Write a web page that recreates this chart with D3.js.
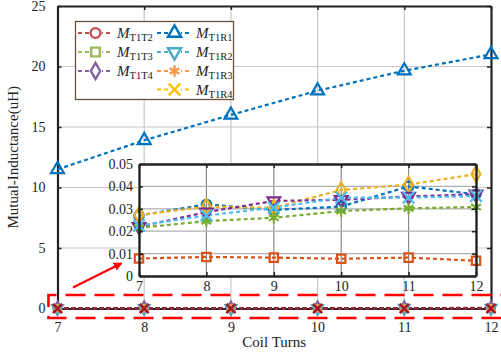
<!DOCTYPE html>
<html>
<head>
<meta charset="utf-8">
<script src="https://cdn.jsdelivr.net/npm/d3@7"></script>
<style>
  html, body { margin: 0; padding: 0; background: #fff; }
  svg { display: block; font-family: "Liberation Serif", "DejaVu Serif", serif; }
</style>
</head>
<body>
<div id="chart"></div>
<script>
// coil turns on the x axis
const turns = [7, 8, 9, 10, 11, 12];
const mainYTicks = [0, 5, 10, 15, 20, 25];
const insetYTicks = [0, 0.01, 0.02, 0.03, 0.04, 0.05];

// mutual inductance (uH)
const mT1R1 = [11.5, 13.9, 16.0, 18.0, 19.65, 21.0];
const mT1T2 = [0.027, 0.032, 0.0295, 0.031, 0.040, 0.0365];
const mT1T3 = [0.0078, 0.0085, 0.0082, 0.0077, 0.0082, 0.0068];
const mT1T4 = [0.0272, 0.031, 0.0305, 0.0384, 0.0408, 0.0455];
const mT1R2 = [0.022, 0.0285, 0.0335, 0.034, 0.0355, 0.0365];
const mT1R3 = [0.0215, 0.0245, 0.026, 0.029, 0.0302, 0.0308];
const mT1R4 = [0.0225, 0.027, 0.0305, 0.035, 0.035, 0.0357];

const width = 501, height = 356;

const svg = d3.select("#chart").append("svg")
  .attr("width", width)
  .attr("height", height);

// legend colours and the colours used inside the zoomed inset
const series = [
  {name: "T1T2", values: mT1T2, symbol: "circle", color: "#c0504d", inset: "#0072bd", col: 0, row: 0},
  {name: "T1T3", values: mT1T3, symbol: "square", color: "#9bbb59", inset: "#d95319", col: 0, row: 1},
  {name: "T1T4", values: mT1T4, symbol: "diamond", color: "#8064a2", inset: "#edb120", col: 0, row: 2},
  {name: "T1R1", values: mT1R1, symbol: "triangle", color: "#0072bd", inset: null, col: 1, row: 0},
  {name: "T1R2", values: mT1R2, symbol: "triangleDown", color: "#4bacc6", inset: "#7e2f8e", col: 1, row: 1},
  {name: "T1R3", values: mT1R3, symbol: "asterisk", color: "#f79646", inset: "#77ac30", col: 1, row: 2},
  {name: "T1R4", values: mT1R4, symbol: "x", color: "#ffc000", inset: "#4dbeee", col: 1, row: 3}
];

function markerPath(kind, size) {
  const map = {
    circle: d3.symbolCircle,
    square: d3.symbolSquare,
    diamond: d3.symbolDiamond,
    triangle: d3.symbolTriangle,
    triangleDown: d3.symbolTriangle,
    asterisk: d3.symbolAsterisk,
    x: d3.symbolTimes
  };
  return d3.symbol().type(map[kind]).size(size)();
}

function drawMarker(g, kind, x, y, size, color, sw) {
  const rot = kind === "triangleDown" ? 180 : 0;
  g.append("path")
    .attr("d", markerPath(kind, size))
    .attr("transform", `translate(${x},${y}) rotate(${rot})`)
    .attr("fill", "none")
    .attr("stroke", color)
    .attr("stroke-width", sw);
}

// ---------- main axes ----------
const x = d3.scaleLinear().domain([7, 12]).range([57.5, 491]);
const y = d3.scaleLinear().domain([0, 25]).range([308.5, 6]);

const grid = svg.append("g");
grid.selectAll(".vx").data(turns.slice(1, -1)).enter().append("line")
  .attr("x1", d => x(d)).attr("x2", d => x(d))
  .attr("y1", y(25)).attr("y2", y(0))
  .attr("stroke", "#c8c8c8").attr("stroke-width", 1.2);
grid.selectAll(".hy").data(mainYTicks.slice(1, -1)).enter().append("line")
  .attr("x1", x(7)).attr("x2", x(12))
  .attr("y1", d => y(d)).attr("y2", d => y(d))
  .attr("stroke", "#c8c8c8").attr("stroke-width", 1.2);

// left / bottom axes with ticks pointing in
svg.append("g")
  .attr("transform", `translate(${x(7)},0)`)
  .call(d3.axisLeft(y).tickValues(mainYTicks).tickSizeInner(-4).tickSizeOuter(0).tickPadding(12))
  .call(g => g.select(".domain").attr("stroke", "#222").attr("stroke-width", 2.2))
  .call(g => g.selectAll("text").attr("font-size", 14).attr("fill", "#222").attr("font-family", "Liberation Serif"));

svg.append("g")
  .attr("transform", `translate(0,${y(0)})`)
  .call(d3.axisBottom(x).tickValues(turns).tickFormat(d3.format("d")).tickSizeInner(-4).tickSizeOuter(0).tickPadding(14))
  .call(g => g.select(".domain").attr("stroke", "#222").attr("stroke-width", 2.2))
  .call(g => g.selectAll("text").attr("font-size", 14).attr("fill", "#222").attr("font-family", "Liberation Serif"));

// top / right box lines
svg.append("g")
  .attr("transform", `translate(0,${y(25)})`)
  .call(d3.axisTop(x).tickValues(turns).tickFormat("").tickSizeInner(-4).tickSizeOuter(0))
  .call(g => g.select(".domain").attr("stroke", "#222").attr("stroke-width", 2.2));
svg.append("g")
  .attr("transform", `translate(${x(12)},0)`)
  .call(d3.axisRight(y).tickValues(mainYTicks).tickFormat("").tickSizeInner(-4).tickSizeOuter(0))
  .call(g => g.select(".domain").attr("stroke", "#222").attr("stroke-width", 2.2));
svg.selectAll(".tick line").attr("stroke", "#222").attr("stroke-width", 1.5);

// axis titles
svg.append("text")
  .attr("x", x(9.5)).attr("y", 347)
  .attr("text-anchor", "middle")
  .attr("font-size", 15).attr("fill", "#222")
  .text("Coil Turns");
svg.append("text")
  .attr("transform", `translate(18,${y(12.5)}) rotate(-90)`)
  .attr("text-anchor", "middle")
  .attr("font-size", 15).attr("fill", "#222")
  .text("Mutual-Inductance(uH)");

// main series
const line = d3.line().x((d, i) => x(turns[i])).y(d => y(d));
const mainG = svg.append("g");
series.forEach(s => {
  mainG.append("path")
    .datum(s.values)
    .attr("d", line)
    .attr("fill", "none")
    .attr("stroke", s.name === "T1R1" ? s.color : "#8b2838")
    .attr("stroke-width", 2.2)
    .attr("stroke-dasharray", "4,3");
});
series.forEach(s => {
  const big = s.name === "T1R1";
  s.values.forEach((v, i) => {
    drawMarker(mainG, s.symbol, x(turns[i]), y(v), big ? 72 : 50, s.color, 2.2);
  });
});
// the crowded markers near zero are topped by dark red crosses
turns.forEach(t => drawMarker(mainG, "x", x(t), y(0), 55, "#a2142f", 2.5));

// red dashed zoom region
svg.append("rect")
  .attr("x", 48.5).attr("y", 295)
  .attr("width", 470).attr("height", 23)
  .attr("fill", "none")
  .attr("stroke", "#ff0000")
  .attr("stroke-width", 2.6)
  .attr("stroke-dasharray", "20,9")
  .attr("stroke-dashoffset", 12);

// ---------- inset ----------
const ix = d3.scaleLinear().domain([7, 12]).range([139, 476]);
const iy = d3.scaleLinear().domain([0, 0.05]).range([276, 164]);
const inset = svg.append("g");

inset.append("rect")
  .attr("x", ix(7)).attr("y", iy(0.05))
  .attr("width", ix(12) - ix(7)).attr("height", iy(0) - iy(0.05))
  .attr("fill", "#fff");

inset.selectAll(".ivx").data(turns.slice(1, -1)).enter().append("line")
  .attr("x1", d => ix(d)).attr("x2", d => ix(d))
  .attr("y1", iy(0.05)).attr("y2", iy(0))
  .attr("stroke", "#8a8a8a").attr("stroke-width", 1.2);
inset.selectAll(".ihy").data(insetYTicks.slice(1, -1)).enter().append("line")
  .attr("x1", ix(7)).attr("x2", ix(12))
  .attr("y1", d => iy(d)).attr("y2", d => iy(d))
  .attr("stroke", "#b0b0b0").attr("stroke-width", 1.2);

const iline = d3.line().x((d, i) => ix(turns[i])).y(d => iy(d));
series.filter(s => s.inset).forEach(s => {
  inset.append("path")
    .datum(s.values)
    .attr("d", iline)
    .attr("fill", "none")
    .attr("stroke", s.inset)
    .attr("stroke-width", 2.2)
    .attr("stroke-dasharray", "4,3");
});
series.filter(s => s.inset).forEach(s => {
  s.values.forEach((v, i) => {
    drawMarker(inset, s.symbol, ix(turns[i]), iy(v), s.symbol === "asterisk" || s.symbol === "x" ? 90 : 70, s.inset, 2.2);
  });
});

inset.append("g")
  .attr("transform", `translate(${ix(7)},0)`)
  .call(d3.axisLeft(iy).tickValues(insetYTicks).tickFormat(d => d === 0 ? "0" : d3.format(".2f")(d)).tickSizeInner(-4).tickSizeOuter(0).tickPadding(6))
  .call(g => g.select(".domain").attr("stroke", "#222").attr("stroke-width", 2.4))
  .call(g => g.selectAll("text").attr("font-size", 14).attr("fill", "#222").attr("font-family", "Liberation Serif"));
inset.append("g")
  .attr("transform", `translate(0,${iy(0)})`)
  .call(d3.axisBottom(ix).tickValues(turns).tickFormat(d3.format("d")).tickSizeInner(-4).tickSizeOuter(0).tickPadding(5))
  .call(g => g.select(".domain").attr("stroke", "#222").attr("stroke-width", 2.4))
  .call(g => g.selectAll("text").attr("font-size", 14).attr("fill", "#222").attr("font-family", "Liberation Serif"));
inset.append("g")
  .attr("transform", `translate(0,${iy(0.05)})`)
  .call(d3.axisTop(ix).tickValues(turns).tickFormat("").tickSizeInner(-4).tickSizeOuter(0))
  .call(g => g.select(".domain").attr("stroke", "#222").attr("stroke-width", 2.4));
inset.append("g")
  .attr("transform", `translate(${ix(12)},0)`)
  .call(d3.axisRight(iy).tickValues(insetYTicks).tickFormat("").tickSizeInner(-4).tickSizeOuter(0))
  .call(g => g.select(".domain").attr("stroke", "#222").attr("stroke-width", 2.4));
inset.selectAll(".tick line").attr("stroke", "#222").attr("stroke-width", 1.5);

// red arrow pointing at the inset
const defs = svg.append("defs");
defs.append("marker")
  .attr("id", "arrowhead")
  .attr("viewBox", "0 0 10 10")
  .attr("refX", 8).attr("refY", 5)
  .attr("markerWidth", 4).attr("markerHeight", 4)
  .attr("orient", "auto")
  .append("path")
  .attr("d", "M0,0 L10,5 L0,10 z")
  .attr("fill", "#ff0000");
svg.append("line")
  .attr("x1", 73).attr("y1", 287.5)
  .attr("x2", 121).attr("y2", 263.5)
  .attr("stroke", "#ff0000")
  .attr("stroke-width", 2.2)
  .attr("marker-end", "url(#arrowhead)");

// ---------- legend ----------
const legend = svg.append("g");
legend.append("rect")
  .attr("x", 75.5).attr("y", 21.5)
  .attr("width", 158).attr("height", 78)
  .attr("fill", "#fff")
  .attr("stroke", "#6b4f3a")
  .attr("stroke-width", 1.3);

const colX = [77, 156];
const rowY = [33, 52, 71, 89.5];
series.forEach(s => {
  const lx = colX[s.col], ly = rowY[s.row];
  legend.append("line")
    .attr("x1", lx + 1).attr("x2", lx + 36)
    .attr("y1", ly).attr("y2", ly)
    .attr("stroke", s.color)
    .attr("stroke-width", 2.2)
    .attr("stroke-dasharray", "4,3");
  legend.append("rect")
    .attr("x", lx + 12).attr("y", ly - 6).attr("width", 13).attr("height", 12)
    .attr("fill", "#fff");
  drawMarker(legend, s.symbol, lx + 18.5, ly, s.symbol === "asterisk" || s.symbol === "x" ? 90 : 75, s.color, 2.4);
  const t = legend.append("text")
    .attr("x", lx + 40).attr("y", ly + 5)
    .attr("font-size", 15).attr("fill", "#222");
  t.append("tspan").attr("font-style", "italic").text("M");
  t.append("tspan").attr("font-size", 10.5).attr("dy", 3).text(s.name);
});
</script>
</body>
</html>
